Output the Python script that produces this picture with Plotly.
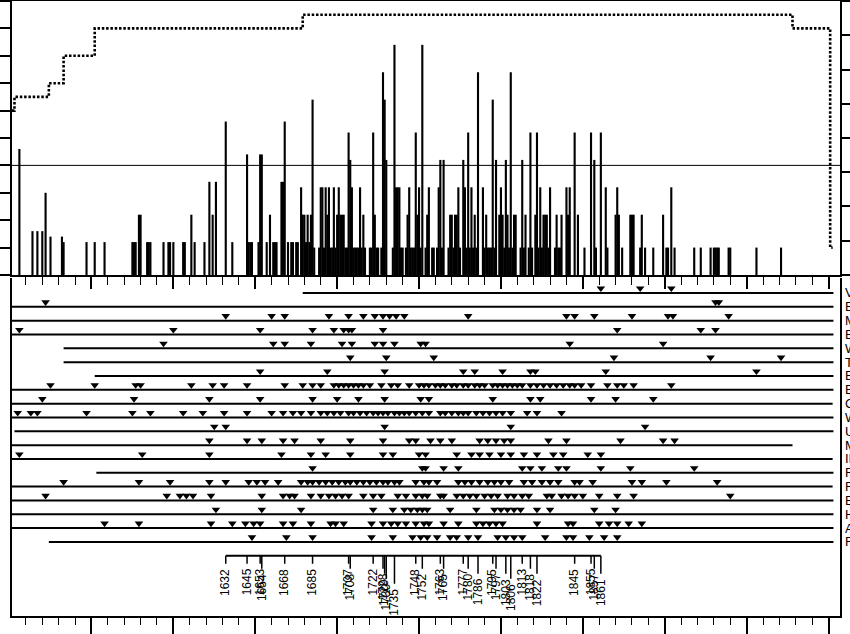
import plotly.graph_objects as go

# ---------------- data ----------------
bar_years = [1506, 1514, 1517, 1520, 1522, 1525, 1532, 1533, 1547, 1552, 1558,
             1575, 1576, 1577, 1579, 1580, 1584, 1585, 1586, 1594, 1597, 1598, 1600,
             1606, 1607, 1611, 1613, 1619, 1622, 1624, 1626, 1632, 1636, 1645, 1646,
             1647, 1648, 1652, 1653, 1654, 1657, 1659, 1661, 1662, 1663, 1666, 1667,
             1668, 1670, 1672, 1673, 1675, 1676, 1678, 1679, 1680, 1681,
             1682, 1683, 1684, 1685, 1686, 1689, 1690, 1691, 1692, 1693, 1694,
             1695, 1696, 1697, 1698, 1699, 1700, 1701, 1702, 1703, 1704, 1705, 1706,
             1707, 1708, 1709, 1710, 1711, 1712, 1713, 1714, 1715, 1716, 1717, 1720,
             1721, 1722, 1723, 1724, 1725, 1727, 1728, 1729, 1730,
             1734, 1735, 1736, 1737, 1738, 1739, 1740, 1742, 1743, 1744, 1745, 1746,
             1747, 1748, 1749, 1750, 1751, 1752, 1754, 1755, 1756, 1758, 1759,
             1761, 1762, 1763, 1764, 1765, 1768, 1769, 1770, 1771,
             1772, 1773, 1774, 1775, 1777, 1778, 1779, 1780, 1781, 1782, 1783,
             1784, 1785, 1786, 1789, 1790, 1791, 1792, 1793, 1794, 1795,
             1796, 1797, 1799, 1800, 1801, 1802, 1803, 1804, 1805, 1806, 1807,
             1808, 1809, 1812, 1813, 1814, 1815, 1817, 1818, 1819, 1821,
             1822, 1823, 1824, 1825, 1826, 1827, 1828, 1829, 1830, 1833, 1834, 1835,
             1836, 1837, 1840, 1841, 1842, 1845, 1847, 1851, 1855, 1857, 1858, 1861,
             1864, 1865, 1870, 1871, 1872, 1874, 1879, 1880, 1881, 1885, 1886, 1888,
             1893, 1899, 1901, 1902, 1904, 1906, 1918, 1922, 1928, 1930, 1931, 1932,
             1933, 1939, 1940, 1956, 1971]
bar_pct = [46, 16, 16, 16, 30, 14, 14, 12, 12, 12, 12,
           12, 12, 12, 22, 22, 12, 12, 12, 12, 12, 12, 12,
           12, 12, 22, 12, 12, 34, 22, 34, 56, 12, 44, 12,
           12, 12, 12, 44, 44, 12, 22, 12, 12, 12, 34, 34,
           56, 12, 12, 12, 12, 12, 32, 22, 22, 12,
           22, 12, 22, 64, 10, 10, 32, 32, 10, 32, 22,
           32, 10, 10, 32, 10, 22, 32, 22, 22, 22, 10, 10,
           52, 42, 32, 10, 10, 10, 10, 32, 10, 22, 10, 10,
           10, 52, 22, 10, 10, 10, 74, 64, 42,
           10, 84, 32, 32, 32, 10, 10, 10, 22, 32, 10, 10,
           10, 52, 22, 32, 10, 84, 10, 22, 32, 10, 10,
           10, 32, 42, 10, 42, 10, 22, 22, 10,
           22, 22, 32, 10, 42, 32, 10, 52, 10, 32, 10,
           22, 10, 74, 32, 10, 22, 10, 10, 10, 64,
           10, 42, 22, 32, 22, 10, 42, 22, 10, 74, 10,
           22, 22, 10, 42, 10, 22, 10, 52, 10, 22,
           52, 10, 32, 10, 22, 22, 22, 10, 32, 10, 22, 10,
           10, 22, 32, 22, 32, 52, 22, 10, 52, 42, 10, 52,
           32, 10, 22, 32, 22, 10, 22, 22, 22, 10, 22, 10,
           10, 22, 10, 10, 32, 10, 10, 10, 10, 10, 10, 10,
           10, 10, 10, 10, 10]

depth_years = [1501.5, 1503, 1524, 1533, 1552, 1679, 1978, 2001, 2002.5]
depth_trees = [12, 13, 14, 16, 18, 19, 18, 2, 2]

tree_labels = ["V", "E", "M", "E", "W", "T", "E", "E", "C", "W",
               "U", "M", "II", "F", "F", "E", "H", "A", "F"]
tree_start = [1679, 1501.5, 1501.5, 1501.5, 1533, 1533, 1552, 1501.5, 1501.5, 1501.5,
              1503, 1501.5, 1501.5, 1553, 1501.5, 1501.5, 1501.5, 1501.5, 1524]
tree_end = [2003, 2003, 2003, 2003, 2003, 2003, 2003, 2003, 2002.5, 2003,
            2003, 1978, 2002.5, 2003, 2002.5, 2003, 2003, 2003, 2003]

scars_01 = [1861, 1885, 1904]
scars_02 = [1522, 1931, 1933]
scars_03 = [1632, 1660, 1668, 1695, 1707, 1716, 1723, 1728, 1732, 1736, 1741, 1780,
            1840, 1845, 1857, 1880, 1902, 1905, 1939]
scars_04 = [1506, 1600, 1653, 1685, 1698, 1704, 1707, 1709, 1728, 1871, 1922, 1931]
scars_05 = [1594, 1661, 1668, 1684, 1703, 1709, 1723, 1728, 1735, 1751, 1754, 1842, 1899]
scars_06 = [1708, 1730, 1759, 1869, 1928, 1971]
scars_07 = [1653, 1694, 1729, 1777, 1784, 1801, 1818, 1821, 1864, 1956]
scars_08 = [1525, 1552, 1577, 1580, 1611, 1624, 1631, 1645, 1668, 1679, 1685, 1690,
            1698, 1701, 1704, 1707, 1710, 1713, 1716, 1720, 1727, 1733, 1737, 1744,
            1750, 1753, 1756, 1760, 1763, 1766, 1770, 1773, 1777, 1780, 1784, 1787,
            1790, 1795, 1798, 1801, 1804, 1807, 1810, 1813, 1818, 1822, 1826, 1830,
            1834, 1838, 1842, 1845, 1849, 1855, 1865, 1871, 1875, 1881, 1904]
scars_09 = [1520, 1576, 1622, 1653, 1685, 1700, 1713, 1729, 1751, 1756, 1795, 1818,
            1824, 1855, 1870, 1893]
scars_10 = [1505, 1513, 1517, 1547, 1575, 1586, 1606, 1618, 1631, 1645, 1660, 1667,
            1673, 1678, 1684, 1690, 1694, 1698, 1702, 1707, 1710, 1714, 1718, 1722,
            1725, 1728, 1731, 1735, 1738, 1741, 1744, 1748, 1752, 1756, 1763, 1766,
            1770, 1774, 1777, 1780, 1785, 1789, 1793, 1797, 1801, 1806, 1816, 1822, 1837]
scars_11 = [1625, 1632, 1729, 1806, 1888]
scars_12 = [1622, 1645, 1654, 1667, 1674, 1690, 1708, 1728, 1744, 1748, 1757, 1763,
            1770, 1787, 1792, 1797, 1802, 1806, 1829, 1840, 1873, 1899, 1906]
scars_13 = [1506, 1581, 1622, 1666, 1684, 1693, 1708, 1728, 1734, 1750, 1754, 1773,
            1782, 1787, 1793, 1800, 1806, 1814, 1822, 1832, 1838, 1853, 1861]
scars_14 = [1685, 1752, 1754, 1765, 1774, 1813, 1818, 1825, 1835, 1840, 1861, 1879, 1918]
scars_15 = [1533, 1579, 1598, 1622, 1632, 1646, 1651, 1656, 1664, 1678, 1682, 1685,
            1689, 1693, 1697, 1701, 1705, 1708, 1712, 1716, 1720, 1724, 1728, 1731,
            1735, 1738, 1748, 1753, 1756, 1761, 1774, 1778, 1782, 1787, 1792, 1796,
            1800, 1805, 1814, 1819, 1825, 1830, 1835, 1845, 1848, 1856, 1880, 1886,
            1901, 1932]
scars_16 = [1522, 1596, 1604, 1608, 1612, 1623, 1654, 1667, 1671, 1674, 1684, 1690,
            1695, 1699, 1703, 1707, 1716, 1722, 1727, 1737, 1742, 1748, 1752, 1755,
            1763, 1765, 1773, 1777, 1781, 1785, 1790, 1794, 1798, 1804, 1808, 1813,
            1817, 1828, 1831, 1837, 1841, 1845, 1850, 1860, 1871, 1881, 1940]
scars_17 = [1626, 1654, 1678, 1722, 1734, 1741, 1745, 1749, 1752, 1755, 1769, 1785,
            1796, 1800, 1804, 1808, 1812, 1822, 1830, 1857, 1870]
scars_18 = [1558, 1579, 1623, 1636, 1644, 1649, 1653, 1667, 1673, 1684, 1696, 1699,
            1704, 1721, 1728, 1733, 1737, 1742, 1748, 1753, 1756, 1765, 1774, 1785,
            1789, 1793, 1797, 1801, 1822, 1841, 1844, 1860, 1866, 1871, 1878, 1886]
scars_19 = [1648, 1669, 1685, 1721, 1734, 1746, 1751, 1755, 1761, 1769, 1773, 1780,
            1786, 1798, 1803, 1808, 1813, 1827, 1840, 1844, 1854, 1863, 1871]

event_years = [1632, 1645, 1653, 1654, 1668, 1685, 1707, 1708, 1722, 1728, 1729,
               1730, 1735, 1748, 1752, 1763, 1765, 1777, 1780, 1786, 1795, 1797,
               1803, 1806, 1813, 1818, 1822, 1845, 1855, 1857, 1861]

all_scars = [scars_01, scars_02, scars_03, scars_04, scars_05, scars_06, scars_07,
             scars_08, scars_09, scars_10, scars_11, scars_12, scars_13, scars_14,
             scars_15, scars_16, scars_17, scars_18, scars_19]

# ---------------- layout constants ----------------
X_RANGE = [1501.5, 2007]
ROW_PX = 13.83                 # pixel spacing of rows in lower panel
EVENT_ROW = 20                 # composite axis sits one row below last tree
FONT = "Liberation Sans, Arial, sans-serif"

fig = go.Figure()

# upper panel: percent scarred bars
fig.add_trace(go.Bar(x=bar_years, y=bar_pct, width=1.3,
                     marker=dict(color="black", line=dict(width=0)),
                     xaxis="x", yaxis="y", hoverinfo="skip"))

# sample depth (dotted step line)
fig.add_trace(go.Scatter(x=depth_years, y=depth_trees, mode="lines",
                         line=dict(shape="hv", dash="2.5px,1.8px", width=2.6, color="black"),
                         xaxis="x", yaxis="y3", hoverinfo="skip"))

# tree lines
lx, ly = [], []
for i, (s, e) in enumerate(zip(tree_start, tree_end)):
    lx += [s, e, None]
    ly += [i + 1, i + 1, None]
fig.add_trace(go.Scatter(x=lx, y=ly, mode="lines", line=dict(color="black", width=2),
                         xaxis="x2", yaxis="y2", hoverinfo="skip"))

# scars
sx, sy = [], []
for i, sc in enumerate(all_scars):
    for yr in sc:
        sx.append(yr)
        sy.append(i + 1 - 0.34)
fig.add_trace(go.Scatter(x=sx, y=sy, mode="markers",
                         marker=dict(symbol="triangle-down", size=7.5, color="black",
                                     line=dict(width=0)),
                         xaxis="x2", yaxis="y2", hoverinfo="skip"))

# composite event axis
fig.add_trace(go.Scatter(x=[event_years[0], event_years[-1]], y=[EVENT_ROW, EVENT_ROW],
                         mode="lines", line=dict(color="black", width=2),
                         xaxis="x2", yaxis="y2", hoverinfo="skip"))

annotations = []
tx, ty = [], []
prev = None
lvl = 0
for yr in event_years:
    if prev is not None and yr - prev <= 6:
        lvl += 1
    else:
        lvl = 0
    prev = yr
    end = EVENT_ROW + (8 + 5 * lvl) / ROW_PX
    tx += [yr, yr, None]
    ty += [EVENT_ROW, end, None]
    annotations.append(dict(x=yr, y=end + 3 / ROW_PX, xref="x2", yref="y2",
                            text=str(yr), textangle=-90, showarrow=False,
                            xanchor="center", yanchor="top",
                            font=dict(size=12, color="black", family=FONT)))
fig.add_trace(go.Scatter(x=tx, y=ty, mode="lines", line=dict(color="black", width=1.5),
                         xaxis="x2", yaxis="y2", hoverinfo="skip"))

# tree labels on the right (cut by the page edge, as in the original)
for i, lab in enumerate(tree_labels):
    annotations.append(dict(x=1.004, y=i + 1, xref="paper", yref="y2", text=lab,
                            showarrow=False, xanchor="left", yanchor="middle",
                            font=dict(size=13, color="black", family=FONT)))

common_x = dict(range=X_RANGE, showgrid=False, zeroline=False, showticklabels=False,
                showline=True, linecolor="black", linewidth=1.5,
                ticks="outside", tick0=1500, dtick=50, tickcolor="black", tickwidth=1.5)

fig.update_layout(
    width=850, height=634, autosize=False,
    margin=dict(l=12, r=10, t=1, b=18, pad=0, autoexpand=False),
    paper_bgcolor="white", plot_bgcolor="white",
    showlegend=False, hovermode=False,
    font=dict(family=FONT, color="black"),
    xaxis=dict(**common_x, domain=[0, 1], anchor="y", mirror=True, ticklen=12,
               minor=dict(ticks="outside", dtick=10, tick0=1500, ticklen=8,
                          tickwidth=1.2, tickcolor="black", showgrid=False)),
    yaxis=dict(domain=[0.5545, 1], range=[0, 100], anchor="x", showgrid=False,
               zeroline=False, showticklabels=False, showline=True, linecolor="black",
               linewidth=1.5, ticks="outside", dtick=10, ticklen=10, tickwidth=1.5,
               tickcolor="black"),
    yaxis3=dict(overlaying="y", side="right", anchor="x", range=[0, 20], showgrid=False,
                zeroline=False, showticklabels=False, showline=True, linecolor="black",
                linewidth=1.5, ticks="outside", dtick=2.5, ticklen=10, tickwidth=1.5,
                tickcolor="black"),
    xaxis2=dict(**common_x, domain=[0, 1], anchor="y2", ticklen=18,
                minor=dict(ticks="outside", dtick=10, tick0=1500, ticklen=7,
                           tickwidth=1.2, tickcolor="black", showgrid=False)),
    yaxis2=dict(domain=[0, 0.5496], range=[24.355, -0.0846], anchor="x2",
                showgrid=False, zeroline=False, showticklabels=False, ticks="",
                showline=True, mirror=True, linecolor="black", linewidth=1.5),
    shapes=[dict(type="line", xref="paper", x0=0, x1=1, yref="y", y0=40, y1=40,
                 line=dict(color="black", width=1))],
    annotations=annotations,
)

fig.write_html("out.html",
               config={"displayModeBar": False},
               post_script="document.body.style.margin='0px';")
